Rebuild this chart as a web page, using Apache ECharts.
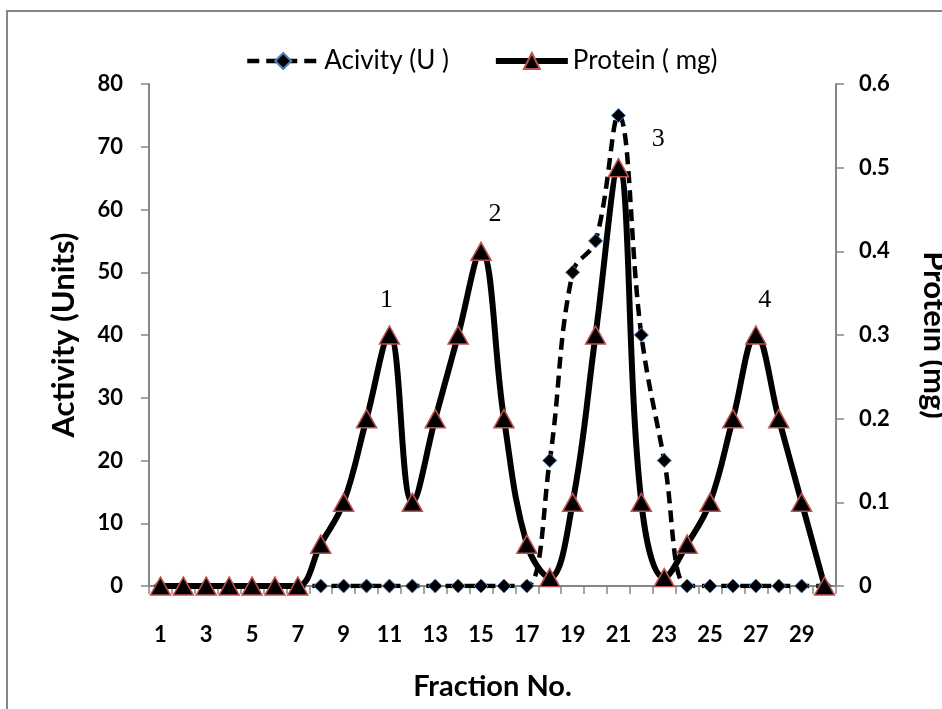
<!DOCTYPE html>
<html>
<head>
<meta charset="utf-8">
<script src="https://cdn.jsdelivr.net/npm/echarts@6/dist/echarts.min.js"></script>
<style>
  html, body { margin: 0; padding: 0; background: #fff; }
  #chart { width: 942px; height: 709px; }
</style>
</head>
<body>
<div id="chart"></div>
<script>
// fraction numbers on the x axis
let fractions = [];
for (let i = 1; i <= 30; i++) {
    fractions.push(String(i));
}
// enzyme activity (U), left axis
let activity = [0, 0, 0, 0, 0, 0, 0, 0, 0, 0,
    0, 0, 0, 0, 0, 0, 0, 20, 50, 55,
    75, 40, 20, 0, 0, 0, 0, 0, 0, 0];
// protein (mg), right axis
let protein = [0, 0, 0, 0, 0, 0, 0, 0.05, 0.1, 0.2,
    0.3, 0.1, 0.2, 0.3, 0.4, 0.2, 0.05, 0.01, 0.1, 0.3,
    0.5, 0.1, 0.01, 0.05, 0.1, 0.2, 0.3, 0.2, 0.1, 0];
// peak numbers: [label, fraction index, protein value]
let peakLabels = [['1', 10, 0.342], ['2', 14, 0.445], ['3', 22, 0.534], ['4', 26, 0.342]];
let peakOffsets = [[-3, 0], [14, 0], [-6, 0], [9, 0]];

let axisGray = '#868686';
let fontFamily = 'Lato, "Liberation Sans", sans-serif';

let chart = echarts.init(document.getElementById('chart'));

let option = {
    animation: false,
    backgroundColor: '#fff',
    textStyle: { fontFamily: fontFamily },
    graphic: [{
        type: 'rect',
        shape: { x: 7, y: 11, width: 1000, height: 1000 },
        style: { fill: 'none', stroke: axisGray, lineWidth: 2 },
        z: -10
    }],
    legend: {
        top: 43,
        left: 240,
        itemWidth: 72,
        itemHeight: 20,
        itemGap: 44,
        textStyle: { fontSize: 26, color: '#000', fontFamily: fontFamily },
        data: [
            { name: 'Acivity (U )', lineStyle: { width: 4.5 } },
            { name: 'Protein ( mg)', lineStyle: { width: 6 } }
        ]
    },
    grid: {
        left: 149,
        right: 106,
        top: 84,
        bottom: 123,
        containLabel: false,
        outerBoundsMode: 'none'
    },
    xAxis: {
        type: 'category',
        data: fractions,
        boundaryGap: true,
        name: 'Fraction No.',
        nameLocation: 'middle',
        nameGap: 86,
        nameMoveOverlap: false,
        nameTextStyle: { fontSize: 29, color: '#000', fontWeight: 'bold' },
        axisLine: { lineStyle: { color: axisGray, width: 2 } },
        axisTick: { show: true, interval: 0, length: 8, lineStyle: { color: axisGray, width: 1.5 } },
        axisLabel: { interval: 1, margin: 38, fontSize: 22, fontWeight: 'bold', color: '#000' },
        splitLine: { show: false }
    },
    yAxis: [{
        type: 'value',
        min: 0,
        max: 80,
        interval: 10,
        name: 'Activity (Units)',
        nameLocation: 'middle',
        nameGap: 70,
        nameRotate: 90,
        nameMoveOverlap: false,
        nameTextStyle: { fontSize: 31, color: '#000', fontWeight: 'bold' },
        axisLine: { show: true, lineStyle: { color: axisGray, width: 2 } },
        axisTick: { show: true, length: 8, lineStyle: { color: axisGray, width: 1.5 } },
        axisLabel: { margin: 26, fontSize: 22, fontWeight: 'bold', color: '#000' },
        splitLine: { show: false }
    }, {
        type: 'value',
        min: 0,
        max: 0.6,
        interval: 0.1,
        position: 'right',
        name: 'Protein (mg)',
        nameLocation: 'middle',
        nameGap: 82,
        nameRotate: -90,
        nameMoveOverlap: false,
        nameTextStyle: { fontSize: 31, color: '#000', fontWeight: 'bold' },
        axisLine: { show: true, lineStyle: { color: axisGray, width: 2 } },
        axisTick: { show: true, length: 8, lineStyle: { color: axisGray, width: 1.5 } },
        axisLabel: {
            margin: 23, fontSize: 22, fontWeight: 'bold', color: '#000',
            formatter: function (value) {
                return value === 0 ? '0' : value.toFixed(1);
            }
        },
        splitLine: { show: false }
    }],
    series: [{
        name: 'Acivity (U )',
        type: 'line',
        yAxisIndex: 0,
        data: activity,
        smooth: 0.4,
        showAllSymbol: true,
        symbol: 'diamond',
        symbolSize: 14,
        itemStyle: { color: '#000', borderColor: '#4f81bd', borderWidth: 1 },
        lineStyle: { color: '#000', width: 4.5, type: [12, 7] },
        z: 2
    }, {
        name: 'Protein ( mg)',
        type: 'line',
        yAxisIndex: 1,
        data: protein,
        smooth: 0.4,
        showAllSymbol: true,
        symbol: 'triangle',
        symbolSize: [20, 18],
        itemStyle: { color: '#000', borderColor: '#c0504d', borderWidth: 1.5 },
        lineStyle: { color: '#000', width: 6 },
        z: 3,
        markPoint: {
            symbol: 'rect',
            symbolSize: 0,
            label: {
                show: true,
                formatter: '{b}',
                fontFamily: '"Liberation Serif", "DejaVu Serif", serif',
                fontSize: 26,
                color: '#000',
                backgroundColor: '#fff',
                padding: [6, 8]
            },
            data: peakLabels.map(function (p, i) {
                return {
                    name: p[0],
                    coord: [p[1], p[2]],
                    label: { offset: peakOffsets[i] }
                };
            })
        }
    }]
};

chart.setOption(option);
</script>
</body>
</html>
